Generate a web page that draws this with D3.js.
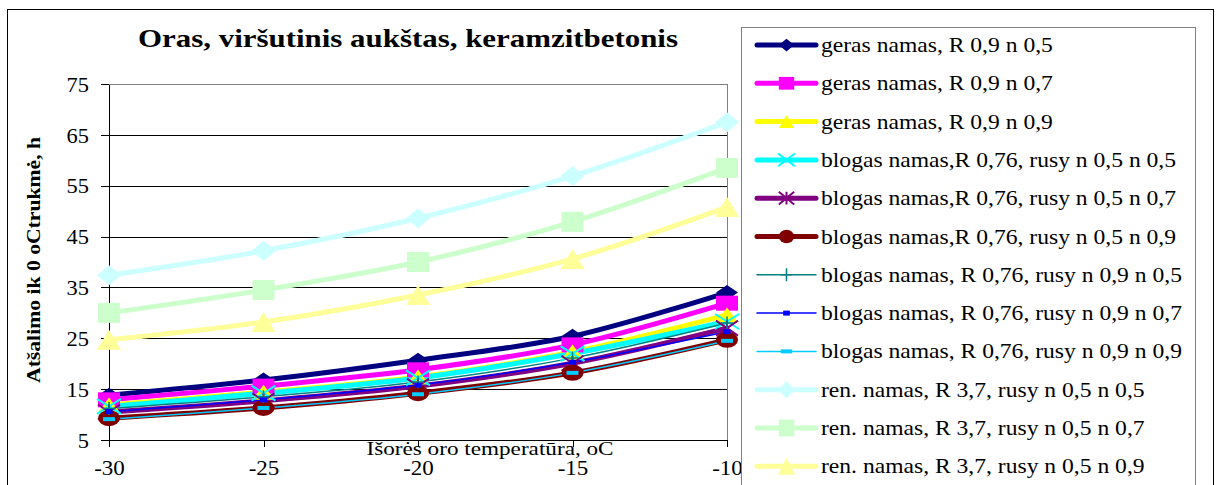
<!DOCTYPE html>
<html lang="lt">
<head>
    <meta charset="UTF-8">
    <title>Oras, viršutinis aukštas, keramzitbetonis</title>
    <style>
        body {
            margin: 0;
            background-color: #ffffff;
            overflow: hidden;
        }
        svg {
            display: block;
            font-family: "Liberation Serif", "Times New Roman", serif;
        }
        .axis path, .axis line {
            stroke: #000;
            shape-rendering: crispEdges;
        }
        .grid line {
            stroke: #000;
            shape-rendering: crispEdges;
        }
        .grid path {
            display: none;
        }
    </style>
</head>
<body>
    <svg id="chart" width="1218" height="485"></svg>

    <script src="https://cdnjs.cloudflare.com/ajax/libs/d3/7.8.5/d3.min.js"></script>
    <script>
        // ---- data ----
        const temps = [-30, -25, -20, -15, -10];
        const yTicks = [5, 15, 25, 35, 45, 55, 65, 75];

        const gerasN05 = [13.8, 16.8, 20.7, 25.4, 34.0];
        const gerasN07 = [12.9, 15.6, 18.8, 23.7, 31.9];
        const gerasN09 = [11.9, 14.4, 17.4, 22.3, 29.6];
        const blogasN0505 = [11.6, 14.2, 17.2, 22.0, 28.3];
        const blogasN0507 = [10.5, 12.7, 15.6, 20.1, 27.0];
        const blogasN0509 = [9.3, 11.3, 14.2, 18.2, 24.7];
        const blogasN0905 = [11.2, 13.5, 16.4, 21.1, 28.0];
        const blogasN0907 = [10.6, 12.9, 15.8, 20.3, 26.3];
        const blogasN0909 = [9.1, 11.3, 14.0, 18.2, 24.5];
        const renN05 = [37.4, 42.2, 48.6, 56.9, 67.5];
        const renN07 = [30.0, 34.5, 40.0, 47.9, 58.5];
        const renN09 = [24.7, 28.2, 33.5, 40.6, 50.8];

        const seriesNames = [
            "geras namas, R 0,9 n 0,5",
            "geras namas, R 0,9 n 0,7",
            "geras namas, R 0,9 n 0,9",
            "blogas namas,R 0,76, rusy n 0,5 n 0,5",
            "blogas namas,R 0,76, rusy n 0,5 n 0,7",
            "blogas namas,R 0,76, rusy n 0,5 n 0,9",
            "blogas namas, R 0,76, rusy n 0,9 n 0,5",
            "blogas namas, R 0,76, rusy n 0,9 n 0,7",
            "blogas namas, R 0,76, rusy n 0,9 n 0,9",
            "ren. namas, R 3,7, rusy n 0,5 n 0,5",
            "ren. namas, R 3,7, rusy n 0,5 n 0,7",
            "ren. namas, R 3,7, rusy n 0,5 n 0,9"
        ];
        const seriesValues = [gerasN05, gerasN07, gerasN09, blogasN0505, blogasN0507, blogasN0509,
                              blogasN0905, blogasN0907, blogasN0909, renN05, renN07, renN09];

        // ---- styles ----
        const styles = [
            { color: "#000080", width: 5, marker: "diamond", w: 22, h: 15 },
            { color: "#FF00FF", width: 5, marker: "square", w: 22, h: 15 },
            { color: "#FFFF00", width: 5, marker: "triangle", w: 22, h: 15 },
            { color: "#00FFFF", width: 5, marker: "x", w: 24, h: 15 },
            { color: "#800080", width: 5, marker: "asterisk", w: 22, h: 15 },
            { color: "#800000", width: 5, marker: "circle", w: 22, h: 16 },
            { color: "#008080", width: 1.5, marker: "plus", w: 12, h: 13 },
            { color: "#0000FF", width: 1.5, marker: "dash", w: 7, h: 5 },
            { color: "#00CCFF", width: 1.5, marker: "dash", w: 12, h: 4 },
            { color: "#CCFFFF", width: 5, marker: "diamond", w: 24, h: 20 },
            { color: "#CCFFCC", width: 5, marker: "square", w: 22, h: 20 },
            { color: "#FFFF99", width: 5, marker: "triangle", w: 24, h: 20 }
        ];

        const shapes = {
            diamond: "M0,-0.5L0.5,0L0,0.5L-0.5,0Z",
            square: "M-0.5,-0.5H0.5V0.5H-0.5Z",
            triangle: "M0,-0.5L0.5,0.5L-0.5,0.5Z",
            x: "M-0.5,-0.5L0.5,0.5M0.5,-0.5L-0.5,0.5",
            asterisk: "M-0.5,-0.5L0.5,0.5M0.5,-0.5L-0.5,0.5M0,-0.5L0,0.5",
            plus: "M-0.5,0L0.5,0M0,-0.5L0,0.5",
            dash: "M-0.5,-0.5H0.5V0.5H-0.5Z"
        };
        const strokeShapes = ["x", "asterisk", "plus"];

        const SX = 1.18; // text in the original is stretched horizontally
        const font = '"Liberation Serif", "Times New Roman", serif';

        const svg = d3.select("#chart");

        // outer chart frame
        svg.append("rect")
            .attr("x", 7.5).attr("y", 9.5)
            .attr("width", 1206).attr("height", 500)
            .attr("fill", "#fff").attr("stroke", "#000");

        const plot = { left: 109, right: 727, top: 84, bottom: 440 };

        const x = d3.scaleLinear().domain([-30, -10]).range([plot.left, plot.right]);
        const y = d3.scaleLinear().domain([5, 75]).range([plot.bottom, plot.top]);

        // plot area frame (gray on top / right)
        svg.append("rect")
            .attr("x", plot.left + 0.5).attr("y", plot.top + 0.5)
            .attr("width", plot.right - plot.left).attr("height", plot.bottom - plot.top)
            .attr("fill", "#fff").attr("stroke", "#808080")
            .style("shape-rendering", "crispEdges");

        // horizontal gridlines
        svg.append("g")
            .attr("class", "grid")
            .attr("transform", `translate(${plot.left},0)`)
            .call(d3.axisLeft(y).tickValues(yTicks.slice(0, -1)).tickSize(-(plot.right - plot.left)).tickFormat(""));

        // y axis
        const yAxis = svg.append("g")
            .attr("class", "axis")
            .attr("transform", `translate(${plot.left},0)`)
            .call(d3.axisLeft(y).tickValues(yTicks).tickSize(8).tickPadding(12).tickSizeOuter(0));
        yAxis.selectAll("text")
            .style("font-family", font)
            .style("font-size", "20px")
            .attr("fill", "#000")
            .attr("dy", "0.36em")
            .attr("x", -20 / 1.12)
            .attr("transform", "scale(1.12,1)");

        // x axis (plain hyphen for negatives, like the original)
        const xAxis = svg.append("g")
            .attr("class", "axis")
            .attr("transform", `translate(0,${plot.bottom})`)
            .call(d3.axisBottom(x).tickValues(temps).tickFormat(d => `${d}`)
                .tickSize(7).tickPadding(14).tickSizeOuter(0));
        xAxis.selectAll("text")
            .style("font-family", font)
            .style("font-size", "20px")
            .attr("fill", "#000")
            .attr("transform", "scale(1.15,1)")
            .attr("text-anchor", "middle")
            .attr("x", 0);

        // lines
        const line = d3.line()
            .x((d, i) => x(temps[i]))
            .y(d => y(d))
            .curve(d3.curveCatmullRom.alpha(0));

        const series = seriesNames.map((name, i) => ({ name, values: seriesValues[i], style: styles[i] }));

        function drawMarker(g, s, cx, cy, w, h) {
            if (s.marker === "circle") {
                g.append("ellipse")
                    .attr("cx", cx).attr("cy", cy)
                    .attr("rx", w / 2).attr("ry", h / 2)
                    .attr("fill", s.color);
                return;
            }
            const stroked = strokeShapes.includes(s.marker);
            g.append("path")
                .attr("d", shapes[s.marker])
                .attr("transform", `translate(${cx},${cy}) scale(${w},${h})`)
                .attr("fill", stroked ? "none" : s.color)
                .attr("stroke", stroked ? s.color : "none")
                .attr("stroke-width", s.marker === "plus" ? 1.5 : 2)
                .attr("vector-effect", "non-scaling-stroke");
        }

        const lines = svg.append("g");
        const marks = svg.append("g");
        series.forEach(s => {
            lines.append("path")
                .attr("d", line(s.values))
                .attr("fill", "none")
                .attr("stroke", s.style.color)
                .attr("stroke-width", s.style.width)
                .attr("stroke-linejoin", "round");
            s.values.forEach((v, i) => drawMarker(marks, s.style, x(temps[i]), y(v), s.style.w, s.style.h));
        });

        // title
        svg.append("text")
            .attr("x", 408).attr("y", 47)
            .attr("text-anchor", "middle")
            .attr("textLength", 540).attr("lengthAdjust", "spacingAndGlyphs")
            .style("font-family", font).style("font-size", "25px").style("font-weight", "bold")
            .text("Oras, viršutinis aukštas, keramzitbetonis");

        // axis titles
        svg.append("text")
            .attr("transform", "translate(40,260) rotate(-90)")
            .attr("text-anchor", "middle")
            .attr("textLength", 246).attr("lengthAdjust", "spacingAndGlyphs")
            .style("font-family", font).style("font-size", "19px").style("font-weight", "bold")
            .text("Atšalimo ik 0 oCtrukmė, h");

        svg.append("text")
            .attr("transform", `translate(490,455) scale(1.22,1)`)
            .attr("text-anchor", "middle")
            .style("font-family", font).style("font-size", "19px")
            .text("Išorės oro temperatūra, oC");

        // legend
        const legend = svg.append("g");
        legend.append("rect")
            .attr("x", 741.5).attr("y", 27.5)
            .attr("width", 454).attr("height", 480)
            .attr("fill", "#fff").attr("stroke", "#808080");

        const rowStep = 38.3;
        series.forEach((s, i) => {
            const cy = 45 + i * rowStep;
            legend.append("line")
                .attr("x1", 757).attr("x2", 816)
                .attr("y1", cy).attr("y2", cy)
                .attr("stroke", s.style.color)
                .attr("stroke-width", s.style.width)
                .attr("stroke-linecap", "round");
            const k = s.style.width > 2 ? 0.7 : 0.95;
            drawMarker(legend, s.style, 786.5, cy, s.style.w * k, s.style.h * (s.style.width > 2 ? 0.85 : 1));
            legend.append("text")
                .attr("transform", `translate(821,${cy + 7}) scale(${SX},1)`)
                .style("font-family", font).style("font-size", "20px")
                .text(s.name);
        });
    </script>
</body>
</html>
